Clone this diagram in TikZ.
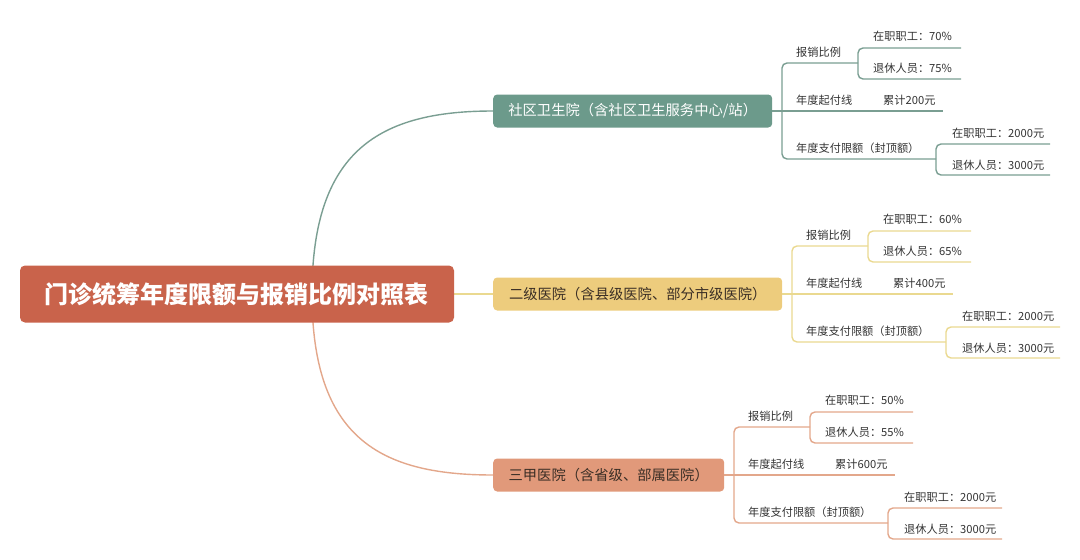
\documentclass[tikz,border=0pt]{standalone}
\usepackage{fontspec}
\newfontfamily\cjk{Noto Sans CJK SC}
\usetikzlibrary{backgrounds}
\definecolor{rootc}{HTML}{C9634B}
\definecolor{gfill}{HTML}{6C9A8B}
\definecolor{yfill}{HTML}{EDCC7D}
\definecolor{ofill}{HTML}{E1997A}
\definecolor{gline}{HTML}{7A9E92}
\definecolor{yline}{HTML}{EAD990}
\definecolor{oline}{HTML}{E3A78B}
\definecolor{leafc}{HTML}{333333}
\definecolor{darktext}{HTML}{3A2E25}
\tikzset{
  rootbox/.style={fill=rootc, rounded corners=5pt, text=white, minimum width=434pt,
    minimum height=57pt, inner sep=0pt, font=\cjk\bfseries\fontsize{24}{28}\selectfont},
  branchbox/.style={rounded corners=4pt, minimum height=33pt, inner sep=0pt,
    font=\cjk\fontsize{14.3}{17}\selectfont, anchor=west},
  leaf/.style={anchor=west, inner sep=0pt, text height=10pt, text depth=1.5pt,
    text=leafc, font=\cjk\fontsize{11.2}{13}\selectfont},
  greenline/.style={draw=gline, line width=1.4pt},
  yellowline/.style={draw=yline, line width=1.4pt},
  orangeline/.style={draw=oline, line width=1.4pt},
}
% #1 branch node name, #2 centre y, #3 right edge x of branch node, #4 line style,
% #5 #6 percentages, #7 amount
\newcommand\mybranch[7]{%
  \coordinate (#1-rt) at (#3+86,#2-48);
  \coordinate (#1-cp) at (#3+164,#2+48);
  \coordinate (#1-mid) at (#3+171,#2);
  \draw[#4, rounded corners=5pt] (#1-rt) -- (#3+10,#2-48)
     -- (#3+10,#2+48) -- (#1-cp);
  \draw[#4] (#1.east) -- (#1-mid);
  \draw[#4, rounded corners=5pt] (#3+189,#2-63) -- (#3+86,#2-63)
     -- (#3+86,#2-32) -- (#3+189,#2-32);
  \draw[#4, rounded corners=5pt] (#3+278,#2+33) -- (#3+164,#2+33)
     -- (#3+164,#2+64) -- (#3+278,#2+64);
  \node[leaf] (#1-rate) at (#3+24,#2-59) {报销比例};
  \node[leaf] (#1-rate-a) at (#3+101,#2-75) {在职职工：#5\%};
  \node[leaf] (#1-rate-b) at (#3+101,#2-43) {退休人员：#6\%};
  \node[leaf] (#1-start) at (#3+24,#2-11) {年度起付线};
  \node[leaf] (#1-start-a) at (#3+111,#2-11) {累计#7元};
  \node[leaf] (#1-cap) at (#3+24,#2+37) {年度支付限额（封顶额）};
  \node[leaf] (#1-cap-a) at (#3+180,#2+22) {在职职工：2000元};
  \node[leaf] (#1-cap-b) at (#3+180,#2+54) {退休人员：3000元};
}
\begin{document}
\begin{tikzpicture}[x=1pt,y=-1pt]
\useasboundingbox (0,0) rectangle (1080,560);
\node[rootbox] (root) at (237,294) {门诊统筹年度限额与报销比例对照表};
\node[branchbox, fill=gfill, text=white, minimum width=279pt] (b1) at (493,111)
  {社区卫生院（含社区卫生服务中心/站）};
\node[branchbox, fill=yfill, text=darktext, minimum width=289pt] (b2) at (493,294)
  {二级医院（含县级医院、部分市级医院）};
\node[branchbox, fill=ofill, text=darktext, minimum width=231pt] (b3) at (493,475)
  {三甲医院（含省级、部属医院）};
\begin{scope}[on background layer]
  \draw[greenline] ([xshift=75pt]root.center) .. controls +(0,-144) and +(-113,0) .. (b1.west);
  \draw[orangeline] ([xshift=75pt]root.center) .. controls +(0,144) and +(-113,0) .. (b3.west);
  \draw[yellowline] (root.east) -- (b2.west);
\end{scope}
\mybranch{b1}{111}{772}{greenline}{70}{75}{200}
\mybranch{b2}{294}{782}{yellowline}{60}{65}{400}
\mybranch{b3}{475}{724}{orangeline}{50}{55}{600}
\end{tikzpicture}
\end{document}
